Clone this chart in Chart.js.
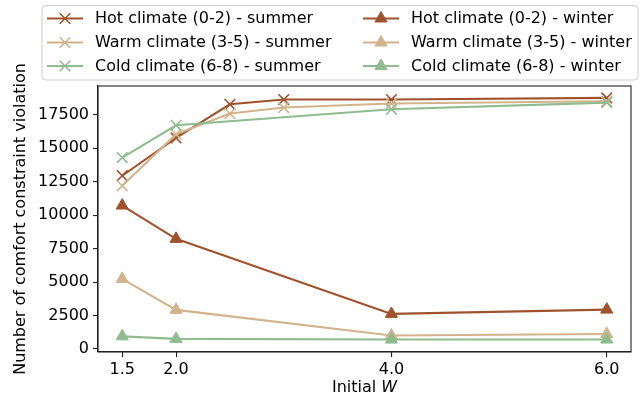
<!DOCTYPE html>
<html><head><meta charset="utf-8">
<script src="https://cdn.jsdelivr.net/npm/chart.js@4/dist/chart.umd.min.js"></script>
<style>html,body{margin:0;padding:0;background:#fff;}canvas{display:block;}</style>
</head><body>
<canvas id="c" width="644" height="400"></canvas>
<script>
// ---- data ----
const summerW = [1.5, 2.0, 2.5, 3.0, 4.0, 6.0];
const coldSummerW = [1.5, 2.0, 4.0, 6.0];
const winterW = [1.5, 2.0, 4.0, 6.0];
const hotSummer = [12950, 15780, 18290, 18650, 18650, 18770];
const warmSummer = [12200, 16050, 17600, 18050, 18350, 18520];
const coldSummer = [14310, 16720, 17920, 18420];
const hotWinter = [10720, 8230, 2620, 2940];
const warmWinter = [5240, 2920, 1000, 1120];
const coldWinter = [940, 750, 700, 700];
const seriesLabels = [
  'Hot climate (0-2) - summer', 'Warm climate (3-5) - summer', 'Cold climate (6-8) - summer',
  'Hot climate (0-2) - winter', 'Warm climate (3-5) - winter', 'Cold climate (6-8) - winter'
];
const xTicks = [1.5, 2.0, 4.0, 6.0];
const yTicks = [0, 2500, 5000, 7500, 10000, 12500, 15000, 17500];
const yTitle = 'Number of comfort constraint violation';
const xTitleMain = 'Initial ';
const xTitleItalic = 'W';

// ---- styling ----
const HOT = '#A0522D', WARM = '#D2B48C', COLD = '#8FBC8F';
const FONT = '"DejaVu Sans"';
const FS = 16;
Chart.defaults.font.family = FONT;
Chart.defaults.font.size = FS;
Chart.defaults.color = '#000';

function pts(xs, ys) { return xs.map((x, i) => ({ x: x, y: ys[i] })); }
function ds(label, xs, ys, color, style, idx) {
  const tri = style === 'triangle';
  return {
    label: label, data: pts(xs, ys),
    borderColor: color, backgroundColor: color,
    borderWidth: 2.1, pointStyle: style,
    pointRadius: tri ? 7 : 7.5, pointBorderWidth: tri ? 1 : 1.6,
    pointBackgroundColor: color, pointBorderColor: color,
    tension: 0, fill: false, order: 10 - idx
  };
}
const datasets = [
  ds(seriesLabels[0], summerW, hotSummer, HOT, 'crossRot', 0),
  ds(seriesLabels[1], summerW, warmSummer, WARM, 'crossRot', 1),
  ds(seriesLabels[2], coldSummerW, coldSummer, COLD, 'crossRot', 2),
  ds(seriesLabels[3], winterW, hotWinter, HOT, 'triangle', 3),
  ds(seriesLabels[4], winterW, warmWinter, WARM, 'triangle', 4),
  ds(seriesLabels[5], winterW, coldWinter, COLD, 'triangle', 5)
];

function drawMarker(ctx, style, x, y, color) {
  ctx.save();
  ctx.strokeStyle = color; ctx.fillStyle = color;
  if (style === 'crossRot') {
    const r = 7.5 * Math.SQRT1_2;
    ctx.lineWidth = 1.6;
    ctx.beginPath();
    ctx.moveTo(x - r, y - r); ctx.lineTo(x + r, y + r);
    ctx.moveTo(x - r, y + r); ctx.lineTo(x + r, y - r);
    ctx.stroke();
  } else {
    const r = 7;
    ctx.lineWidth = 1;
    ctx.beginPath();
    ctx.moveTo(x, y - r);
    ctx.lineTo(x + r * Math.sin(Math.PI * 2 / 3), y - r * Math.cos(Math.PI * 2 / 3));
    ctx.lineTo(x + r * Math.sin(Math.PI * 4 / 3), y - r * Math.cos(Math.PI * 4 / 3));
    ctx.closePath(); ctx.fill(); ctx.stroke();
  }
  ctx.restore();
}

const decor = {
  id: 'decor',
  afterDraw(chart) {
    const ctx = chart.ctx, a = chart.chartArea;
    ctx.save();
    // frame
    ctx.strokeStyle = '#222'; ctx.lineWidth = 1.1;
    ctx.strokeRect(a.left, a.top, a.right - a.left, a.bottom - a.top);
    // y title
    ctx.fillStyle = '#000';
    ctx.font = FS + 'px ' + FONT;
    ctx.textAlign = 'center'; ctx.textBaseline = 'middle';
    ctx.save();
    ctx.translate(21, (a.top + a.bottom) / 2);
    ctx.rotate(-Math.PI / 2);
    ctx.fillText(yTitle, 0, 0);
    ctx.restore();
    // x title (mixed style)
    const f1 = FS + 'px ' + FONT, f2 = 'italic ' + FS + 'px ' + FONT;
    ctx.font = f1; const w1 = ctx.measureText(xTitleMain).width;
    ctx.font = f2; const w2 = ctx.measureText(xTitleItalic).width;
    const cx = (a.left + a.right) / 2, ty = 388;
    let sx = cx - (w1 + w2) / 2;
    ctx.textAlign = 'left';
    ctx.font = f1; ctx.fillText(xTitleMain, sx, ty);
    ctx.font = f2; ctx.fillText(xTitleItalic, sx + w1, ty);
    // legend
    const bx = 42, by = 5.5, bw = 596, bh = 74.5, rr = 4;
    ctx.beginPath();
    ctx.roundRect(bx, by, bw, bh, rr);
    ctx.fillStyle = 'rgba(255,255,255,0.8)'; ctx.fill();
    ctx.strokeStyle = '#cccccc'; ctx.lineWidth = 1; ctx.stroke();
    const colX = [47, 363], rowY = [18.5, 42.5, 66], hl = 36, tgap = 12;
    chart.data.datasets.forEach((d, i) => {
      const col = Math.floor(i / 3), row = i % 3;
      const x0 = colX[col], y0 = rowY[row];
      ctx.strokeStyle = d.borderColor; ctx.lineWidth = 2.1;
      ctx.beginPath(); ctx.moveTo(x0, y0); ctx.lineTo(x0 + hl, y0); ctx.stroke();
      drawMarker(ctx, d.pointStyle, x0 + hl / 2, y0, d.borderColor);
      ctx.fillStyle = '#000'; ctx.font = f1;
      ctx.textAlign = 'left'; ctx.textBaseline = 'middle';
      ctx.fillText(d.label, x0 + hl + tgap, y0 + 0.5);
    });
    ctx.restore();
  }
};

new Chart(document.getElementById('c'), {
  type: 'line',
  data: { datasets: datasets },
  options: {
    responsive: false, animation: false,
    layout: { padding: { left: 0, top: 86, right: 13, bottom: 0 } },
    plugins: { legend: { display: false }, tooltip: { enabled: false } },
    scales: {
      x: {
        type: 'linear', min: 1.275, max: 6.225,
        afterBuildTicks: s => { s.ticks = xTicks.map(v => ({ value: v })); },
        afterFit: s => { s.height = 48; },
        ticks: { callback: v => Number(v).toFixed(1), padding: 3, color: '#000', maxRotation: 0, autoSkip: false },
        grid: { display: true, drawOnChartArea: false, drawTicks: true, tickLength: 5, color: '#222', lineWidth: 1.1 },
        border: { display: true, color: '#222', width: 1.1 }
      },
      y: {
        type: 'linear', min: -230, max: 19660,
        afterBuildTicks: s => { s.ticks = yTicks.map(v => ({ value: v })); },
        afterFit: s => { s.width = 98; },
        ticks: { callback: v => String(v), padding: 4, color: '#000', autoSkip: false },
        grid: { display: true, drawOnChartArea: false, drawTicks: true, tickLength: 5, color: '#222', lineWidth: 1.1 },
        border: { display: true, color: '#222', width: 1.1 }
      }
    }
  },
  plugins: [decor]
});
</script>
</body></html>
